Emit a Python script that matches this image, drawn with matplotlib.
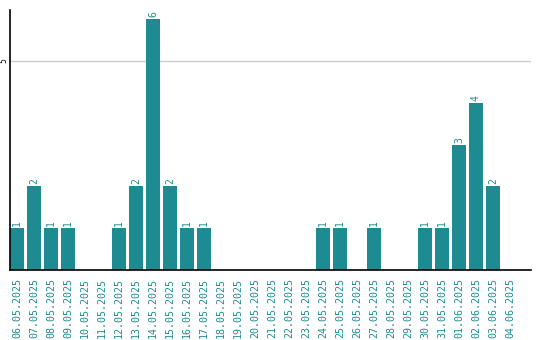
import matplotlib
matplotlib.use("Agg")
import matplotlib.pyplot as plt

dates = ["06.05.2025", "07.05.2025", "08.05.2025", "09.05.2025", "10.05.2025",
         "11.05.2025", "12.05.2025", "13.05.2025", "14.05.2025", "15.05.2025",
         "16.05.2025", "17.05.2025", "18.05.2025", "19.05.2025", "20.05.2025",
         "21.05.2025", "22.05.2025", "23.05.2025", "24.05.2025", "25.05.2025",
         "26.05.2025", "27.05.2025", "28.05.2025", "29.05.2025", "30.05.2025",
         "31.05.2025", "01.06.2025", "02.06.2025", "03.06.2025", "04.06.2025"]
counts = [1, 2, 1, 1, 0, 0, 1, 2, 6, 2, 1, 1, 0, 0, 0,
          0, 0, 0, 1, 1, 0, 1, 0, 0, 1, 1, 3, 4, 2, 0]

teal = "#1e8b92"

fig = plt.figure(figsize=(5.4, 3.4), dpi=100)
ax = fig.add_axes([10 / 540, 70 / 340, 521 / 540, 260 / 340])

x = list(range(len(dates)))
ax.bar(x, counts, width=0.82, color=teal, zorder=2)

# подписи значений над столбцами
for xi, v in zip(x, counts):
    if v > 0:
        ax.text(xi, v + 0.05, str(v), rotation=90, ha="center", va="bottom",
                color=teal, fontsize=7, family="DejaVu Sans Mono")

ax.set_xlim(-0.41, 30.24)
ax.set_ylim(0, 6.22)
ax.set_xticks(x)
ax.set_xticklabels(dates, rotation=90, color=teal, fontsize=7.2,
                   family="DejaVu Sans Mono")
ax.set_yticks([5])
ax.set_yticklabels(["5"], rotation=90, fontsize=5.5, va="center")
ax.tick_params(length=0, pad=6)
ax.tick_params(axis="y", pad=1.5)
ax.yaxis.grid(True, color="#cccccc", linewidth=1, zorder=0)

for side in ["top", "right"]:
    ax.spines[side].set_visible(False)
ax.spines["left"].set_linewidth(1.2)
ax.spines["bottom"].set_linewidth(1.2)

fig.savefig("out.png", dpi=100)
